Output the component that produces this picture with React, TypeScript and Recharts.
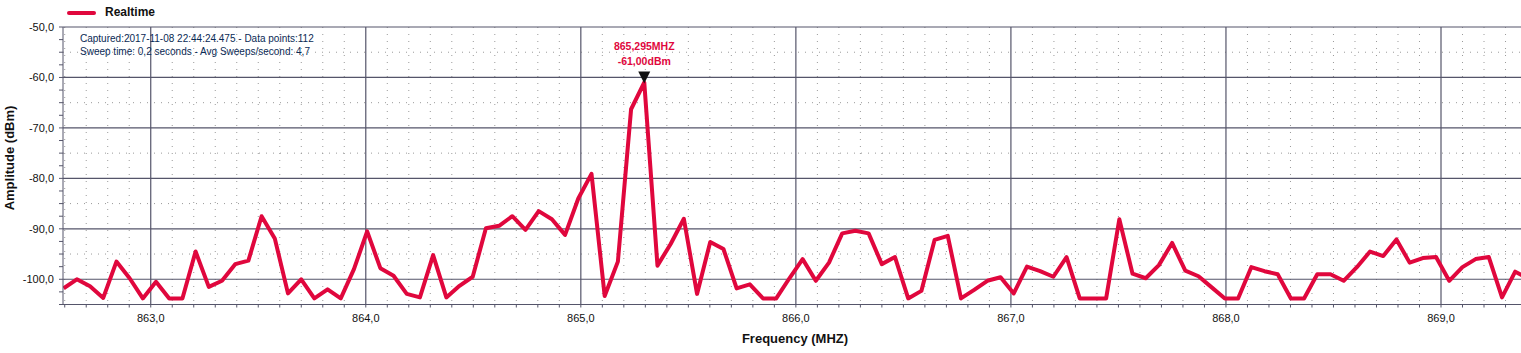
import React from 'react';
import { LineChart, Line, XAxis, YAxis, CartesianGrid, ReferenceDot } from 'recharts';

// sweep: 112 points, first bin and bin width (MHz)
const START_MHZ = 862.595;
const STEP_MHZ = 0.061364;

const AMPLITUDE_DBM = [
  -101.8, -100.0, -101.4, -103.7, -96.5, -99.8, -103.8, -100.5, -103.8, -103.8,
  -94.5, -101.5, -100.3, -97.0, -96.3, -87.5, -91.9, -102.8, -100.0, -103.8,
  -102.0, -103.8, -98.0, -90.5, -97.8, -99.3, -102.9, -103.6, -95.2, -103.6,
  -101.3, -99.5, -89.9, -89.4, -87.5, -90.2, -86.5, -88.1, -91.2, -84.0,
  -79.1, -103.3, -96.5, -66.3, -61.0, -97.3, -93.0, -88.0, -102.9, -92.6,
  -94.0, -101.8, -101.0, -103.8, -103.8, -99.8, -96.0, -100.3, -96.7, -90.9,
  -90.4, -90.9, -97.0, -95.6, -103.8, -102.3, -92.2, -91.4, -103.8, -102.1,
  -100.3, -99.6, -102.8, -97.5, -98.4, -99.5, -95.6, -103.8, -103.8, -103.8,
  -88.1, -98.9, -99.8, -97.2, -92.8, -98.3, -99.4, -101.6, -103.8, -103.8,
  -97.6, -98.4, -99.0, -103.8, -103.8, -99.0, -99.0, -100.3, -97.6, -94.5,
  -95.4, -92.1, -96.7, -95.8, -95.6, -100.3, -97.6, -96.0, -95.6, -103.6,
  -98.5, -99.9,
];

const PEAK_MHZ = 865.295;
const PEAK_DBM = -61.0;

const FREQ_MAJOR = [863, 864, 865, 866, 867, 868, 869];
const AMP_MAJOR = [-100, -90, -80, -70, -60, -50];
const FREQ_TICKS = Array.from({ length: 68 }, (_, k) => Math.round((862.6 + k * 0.1) * 10) / 10);
const AMP_TICKS = Array.from({ length: 23 }, (_, k) => -105 + k * 2.5);

const FREQ_MINOR = FREQ_TICKS.filter((f) => !FREQ_MAJOR.includes(f));
const AMP_MINOR = [-95, -85, -75, -65, -55];

const data = AMPLITUDE_DBM.map((amp, i) => ({
  freq: +(START_MHZ + i * STEP_MHZ).toFixed(4),
  amp,
}));

const FONT = '"Liberation Sans", Arial, sans-serif';
const RED = '#e0073d';

const fmt = (v: number, d: number) => v.toFixed(d).replace('.', ',');

function PeakMarker(props: any) {
  const { cx, cy } = props;
  return (
    <g>
      <text x={cx} y={cy - 37} textAnchor="middle" dominantBaseline="central"
        fill={RED} fontSize={10.5} fontWeight="bold" fontFamily={FONT}>
        {fmt(PEAK_MHZ, 3)}MHZ
      </text>
      <text x={cx} y={cy - 22} textAnchor="middle" dominantBaseline="central"
        fill={RED} fontSize={10.5} fontWeight="bold" fontFamily={FONT}>
        {fmt(PEAK_DBM, 2)}dBm
      </text>
      <path d={`M${cx - 6},${cy - 11} L${cx + 6},${cy - 11} L${cx},${cy + 1} Z`} fill="#111" />
    </g>
  );
}

export default function App() {
  return (
    <div style={{ position: 'absolute', left: 0, top: 0, width: 1521, height: 353, overflow: 'hidden', background: '#fff', fontFamily: FONT }}>
      <LineChart width={1521} height={353} data={data} margin={{ top: 27, right: 0, bottom: 18.5, left: 0 }}>
        <CartesianGrid verticalValues={FREQ_MINOR} horizontalValues={AMP_MINOR}
          stroke="#9a9a9a" strokeDasharray="1 6" />
        <CartesianGrid verticalValues={FREQ_MAJOR} horizontalValues={AMP_MAJOR}
          stroke="#55556a" strokeWidth={1.2} />
        <XAxis
          dataKey="freq"
          type="number"
          domain={[862.592, 869.372]}
          allowDataOverflow
          ticks={FREQ_TICKS}
          interval={0}
          height={30}
          tickSize={3}
          tickMargin={7}
          stroke="#55556a"
          tick={{ fill: '#111', fontSize: 11, fontFamily: FONT }}
          tickFormatter={(v: number) => (FREQ_MAJOR.includes(v) ? fmt(v, 1) : '')}
        />
        <YAxis
          type="number"
          domain={[-105, -50]}
          ticks={AMP_TICKS}
          interval={0}
          width={63}
          tickSize={4}
          tickMargin={5}
          stroke="#55556a"
          tick={{ fill: '#111', fontSize: 11, fontFamily: FONT }}
          tickFormatter={(v: number) => (AMP_MAJOR.includes(v) ? fmt(v, 1) : '')}
        />
        <Line
          dataKey="amp"
          type="linear"
          stroke={RED}
          strokeWidth={4}
          strokeLinejoin="round"
          dot={false}
          activeDot={false}
          isAnimationActive={false}
        />
        <ReferenceDot x={PEAK_MHZ} y={PEAK_DBM} shape={PeakMarker} />
      </LineChart>

      {/* legend */}
      <div style={{ position: 'absolute', left: 67, top: 10.5, width: 29, height: 4.5, borderRadius: 3, background: RED }} />
      <div style={{ position: 'absolute', left: 105, top: 5, fontSize: 12, fontWeight: 'bold', color: '#111', lineHeight: '15px' }}>
        Realtime
      </div>

      {/* capture info */}
      <div style={{ position: 'absolute', left: 80, top: 33, fontSize: 10, color: '#0a2a55', lineHeight: '12.5px', whiteSpace: 'nowrap' }}>
        <div>Captured:2017-11-08 22:44:24.475 - Data points:112</div>
        <div>Sweep time: 0,2 seconds - Avg Sweeps/second: 4,7</div>
      </div>

      {/* axis titles */}
      <div style={{ position: 'absolute', left: 795, top: 338, transform: 'translate(-50%, -50%)', fontSize: 13, fontWeight: 'bold', color: '#111', whiteSpace: 'nowrap' }}>
        Frequency (MHZ)
      </div>
      <div style={{ position: 'absolute', left: 9, top: 158, transform: 'translate(-50%, -50%) rotate(-90deg)', fontSize: 13, fontWeight: 'bold', color: '#111', whiteSpace: 'nowrap' }}>
        Amplitude (dBm)
      </div>
    </div>
  );
}
